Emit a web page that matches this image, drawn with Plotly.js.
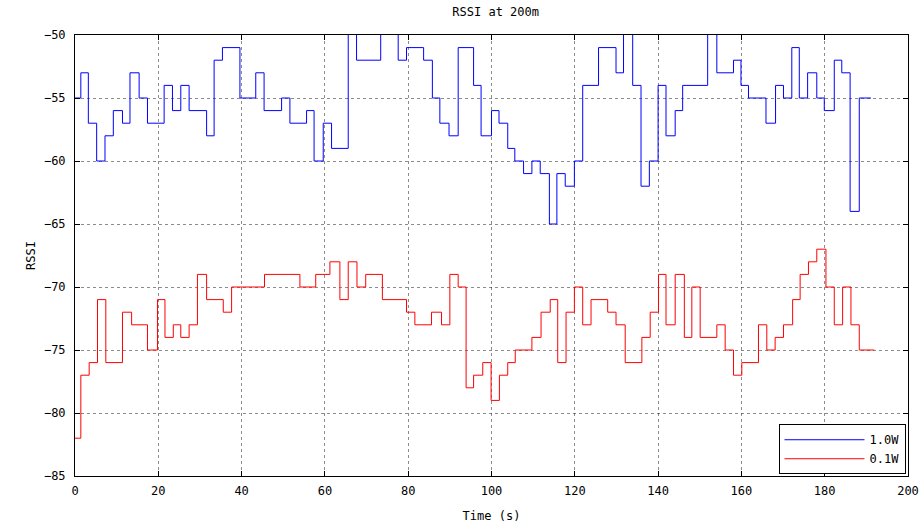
<!DOCTYPE html>
<html>
<head>
<meta charset="utf-8">
<script src="https://cdn.plot.ly/plotly-3.0.1.min.js"></script>
<style>html,body{margin:0;padding:0;background:#fff}#chart{width:923px;height:529px}</style>
</head>
<body>
<div id="chart"></div>
<script>
// 1.0W series: change times (s) and RSSI levels
const timeHigh = [0,1.4,3.2,5.2,7.2,9.2,11.4,13.2,15.4,17.4,21.4,23.4,25.4,27.4,31.6,33.4,35.4,39.6,43.4,45.4,49.6,51.6,55.6,57.4,59.6,61.6,65.6,67.6,73.4,77.6,79.6,83.7,85.8,87.6,89.8,92,95.7,97.5,100,101.8,103.9,105.6,107.7,109.7,111.7,113.9,115.7,117.7,119.9,121.9,125.7,129.9,131.7,133.9,135.9,137.9,140,141.9,144.1,145.9,151.9,154.1,158.1,159.9,161.7,165.9,168.2,170.1,172.1,173.9,175.9,178.1,179.9,182.3,184.1,186.1,188.3,191.1];
const rssiHigh = [-55,-53,-57,-60,-58,-56,-57,-53,-55,-57,-54,-56,-54,-56,-58,-52,-51,-55,-53,-56,-55,-57,-56,-60,-57,-59,-49,-52,-49,-52,-51,-52,-55,-57,-58,-51,-54,-58,-56,-57,-59,-60,-61,-60,-61,-65,-61,-62,-60,-54,-51,-53,-49,-54,-62,-60,-54,-58,-56,-54,-49,-53,-52,-54,-55,-57,-54,-55,-51,-55,-53,-55,-56,-52,-53,-64,-55,-55];
// 0.1W series
const timeLow = [0,1.4,3.4,5.4,7.4,11.4,13.6,17.4,19.8,21.6,23.6,25.4,27.4,29.4,31.6,35.6,37.6,45.5,54,57.8,61.2,63.6,65.6,67.7,69.8,73.8,79.6,81.6,85.6,88,90,92,93.9,95.7,97.9,99.9,101.9,103.9,105.7,109.7,111.9,114.1,115.9,117.9,119.9,121.9,123.9,127.9,129.9,132.1,136.1,138.1,140.1,141.9,144.1,146.3,148.1,150.1,154.1,156.1,158.1,160.1,164.1,166.1,168.1,170.1,172.3,174.1,176.1,178.1,180.3,182.3,184.3,186.3,188.3,191.9];
const rssiLow = [-82,-77,-76,-71,-76,-72,-73,-75,-71,-74,-73,-74,-73,-69,-71,-72,-70,-69,-70,-69,-68,-71,-68,-70,-69,-71,-72,-73,-72,-73,-69,-70,-78,-77,-76,-79,-77,-76,-75,-74,-72,-71,-76,-72,-70,-73,-71,-72,-73,-76,-74,-72,-69,-73,-69,-74,-70,-74,-73,-75,-77,-76,-73,-75,-74,-73,-71,-69,-68,-67,-70,-73,-70,-73,-75,-75];
const seriesNames = ["1.0W", "0.1W"];
const xTicks = [0,20,40,60,80,100,120,140,160,180,200];
const yTicks = [-85,-80,-75,-70,-65,-60,-55,-50];

const font = "DejaVu Sans Mono, monospace";
const traces = [
  {x: timeHigh, y: rssiHigh, name: seriesNames[0], mode: "lines", line: {shape: "hv", color: "#0000ff", width: 1}},
  {x: timeLow, y: rssiLow, name: seriesNames[1], mode: "lines", line: {shape: "hv", color: "#ff0000", width: 1}}
];
const axisCommon = {
  showline: true, linecolor: "#000", linewidth: 1, mirror: "ticks",
  ticks: "inside", ticklen: 5, tickcolor: "#000",
  showgrid: true, gridcolor: "rgba(0,0,0,0.45)", griddash: "dot", gridwidth: 1,
  zeroline: false, tickfont: {family: font, size: 12, color: "#000"}
};
const layout = {
  width: 923, height: 529,
  margin: {l: 75, r: 15, t: 35, b: 53},
  paper_bgcolor: "#fff", plot_bgcolor: "#fff",
  title: {text: "RSSI at 200m", font: {family: font, size: 12, color: "#000"}, x: 0.537, xanchor: "center", y: 0.985, yanchor: "top"},
  xaxis: Object.assign({}, axisCommon, {range: [0, 200], tickvals: xTicks, ticktext: xTicks.map(String), ticklabelstandoff: 4,
    title: {text: "Time (s)", font: {family: font, size: 12, color: "#000"}, standoff: 14}}),
  yaxis: Object.assign({}, axisCommon, {range: [-85, -50], tickvals: yTicks, ticktext: yTicks.map(v => "\u2212" + Math.abs(v)), ticklabelstandoff: 6,
    title: {text: "RSSI", font: {family: font, size: 12, color: "#000"}, standoff: 5}}),
  showlegend: true,
  legend: {x: 0.997, y: 0.004, xanchor: "right", yanchor: "bottom", bgcolor: "#fff", bordercolor: "#000", borderwidth: 1,
    font: {family: font, size: 12, color: "#000"}, itemwidth: 80, tracegroupgap: 0}
};
Plotly.newPlot("chart", traces, layout, {staticPlot: true, displayModeBar: false});
</script>
</body>
</html>
